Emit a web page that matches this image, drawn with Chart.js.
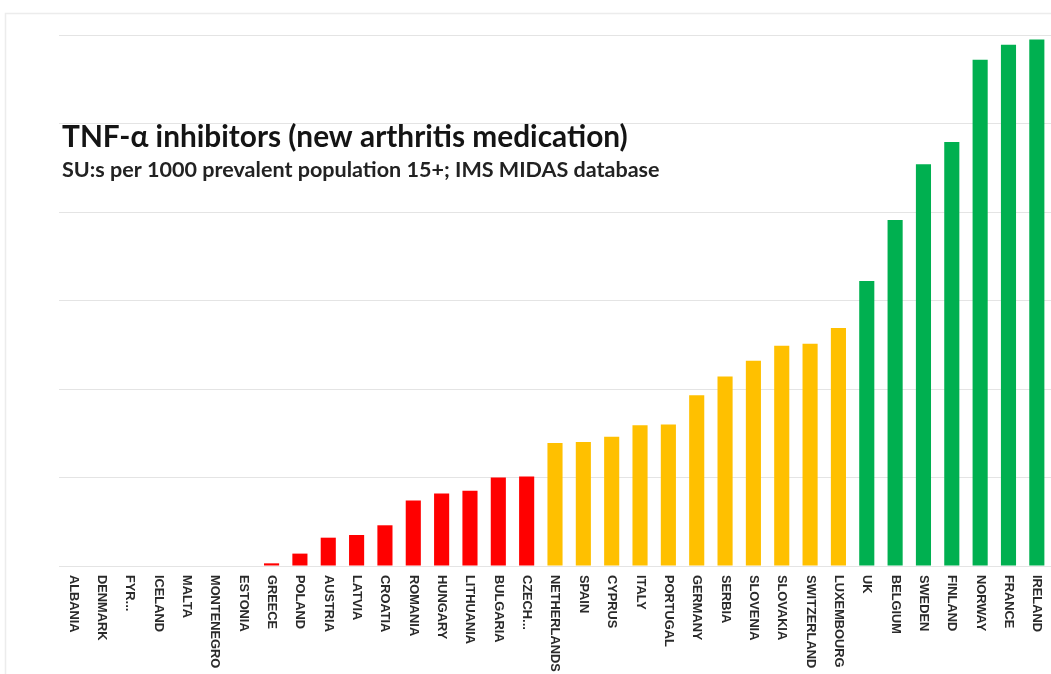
<!DOCTYPE html>
<html>
<head>
<meta charset="utf-8">
<script src="https://cdn.jsdelivr.net/npm/chart.js@4"></script>
<style>
  html, body { margin: 0; padding: 0; background: #ffffff; }
  #wrap { width: 1051px; height: 674px; position: relative; }
</style>
</head>
<body>
<div id="wrap"><canvas id="c" width="1051" height="674"></canvas></div>
<script>
// Countries, ordered by consumption
const countries = [
  'ALBANIA', 'DENMARK', 'FYR...', 'ICELAND', 'MALTA', 'MONTENEGRO', 'ESTONIA',
  'GREECE', 'POLAND', 'AUSTRIA', 'LATVIA', 'CROATIA', 'ROMANIA', 'HUNGARY',
  'LITHUANIA', 'BULGARIA', 'CZECH...', 'NETHERLANDS', 'SPAIN', 'CYPRUS', 'ITALY',
  'PORTUGAL', 'GERMANY', 'SERBIA', 'SLOVENIA', 'SLOVAKIA', 'SWITZERLAND',
  'LUXEMBOURG', 'UK', 'BELGIUM', 'SWEDEN', 'FINLAND', 'NORWAY', 'FRANCE', 'IRELAND'
];

// SU:s per 1000 prevalent population 15+
const suPer1000 = [
  0, 0, 0, 0, 0, 0, 0,
  0.3, 1.4, 3.2, 3.5, 4.6, 7.4, 8.2,
  8.5, 10.0, 10.1, 13.9, 14.0, 14.6, 15.9,
  16.0, 19.3, 21.4, 23.2, 24.9, 25.1,
  26.9, 32.2, 39.1, 45.4, 47.9, 57.2, 58.9, 59.5
];

// Consumption tiers: upper bound of each tier
const tierLimits = [12, 30];
const tierColors = ['#ff0000', '#ffc000', '#00b050'];

const yMax = 60;
const yStep = 10;

const titleText = 'TNF-\u03b1 inhibitors (new arthritis medication)';
const subtitleText = 'SU:s per 1000 prevalent population 15+; IMS MIDAS database';

function tierColor(v) {
  for (let i = 0; i < tierLimits.length; i++) {
    if (v < tierLimits[i]) return tierColors[i];
  }
  return tierColors[tierColors.length - 1];
}

// Draws a text so that it spans the given width
function fitText(ctx, text, x, y, width, family, weight, guess) {
  ctx.font = weight + ' ' + guess + 'px ' + family;
  const w = ctx.measureText(text).width;
  const size = guess * width / w;
  ctx.font = weight + ' ' + size.toFixed(2) + 'px ' + family;
  ctx.fillText(text, x, y);
}

const decorations = {
  id: 'decorations',
  beforeDraw(chart) {
    const ctx = chart.ctx;
    ctx.save();
    ctx.strokeStyle = '#ececec';
    ctx.lineWidth = 1.5;
    ctx.beginPath();
    ctx.moveTo(5.5, 700);
    ctx.lineTo(5.5, 13.5);
    ctx.lineTo(1060, 13.5);
    ctx.stroke();
    ctx.restore();
  },
  afterDraw(chart) {
    const ctx = chart.ctx;
    const xs = chart.scales.x;
    const area = chart.chartArea;
    ctx.save();
    // rotated category labels, reading top to bottom
    ctx.fillStyle = '#2a2a2a';
    ctx.font = 'bold 12.8px "Liberation Sans", Arial, sans-serif';
    ctx.textAlign = 'left';
    ctx.textBaseline = 'middle';
    countries.forEach((name, i) => {
      const x = xs.getPixelForTick(i);
      ctx.save();
      ctx.translate(x, area.bottom + 9);
      ctx.rotate(Math.PI / 2);
      ctx.fillText(name, 0, 0);
      ctx.restore();
    });
    // heading block
    ctx.textBaseline = 'alphabetic';
    ctx.fillStyle = '#141414';
    fitText(ctx, titleText, 62, 147, 566, 'Lato, "Open Sans", sans-serif', 'bold', 24);
    ctx.fillStyle = '#222222';
    fitText(ctx, subtitleText, 62, 177, 598, 'Lato, "Open Sans", sans-serif', 'bold', 16);
    ctx.restore();
  }
};

new Chart(document.getElementById('c'), {
  type: 'bar',
  data: {
    labels: countries,
    datasets: [{
      data: suPer1000,
      backgroundColor: suPer1000.map(tierColor),
      borderWidth: 0,
      barPercentage: 0.62,
      categoryPercentage: 0.86
    }]
  },
  options: {
    responsive: false,
    animation: false,
    devicePixelRatio: 1,
    layout: { padding: { left: 59, right: 0, top: 35, bottom: 100 } },
    plugins: {
      legend: { display: false },
      title: { display: false },
      tooltip: { enabled: false }
    },
    scales: {
      x: {
        ticks: { display: false },
        grid: { display: false },
        border: { display: false }
      },
      y: {
        min: 0,
        max: yMax,
        ticks: { display: false, stepSize: yStep },
        grid: { color: '#e4e4e4', lineWidth: 1, drawTicks: false },
        border: { display: false }
      }
    }
  },
  plugins: [decorations]
});
</script>
</body>
</html>
